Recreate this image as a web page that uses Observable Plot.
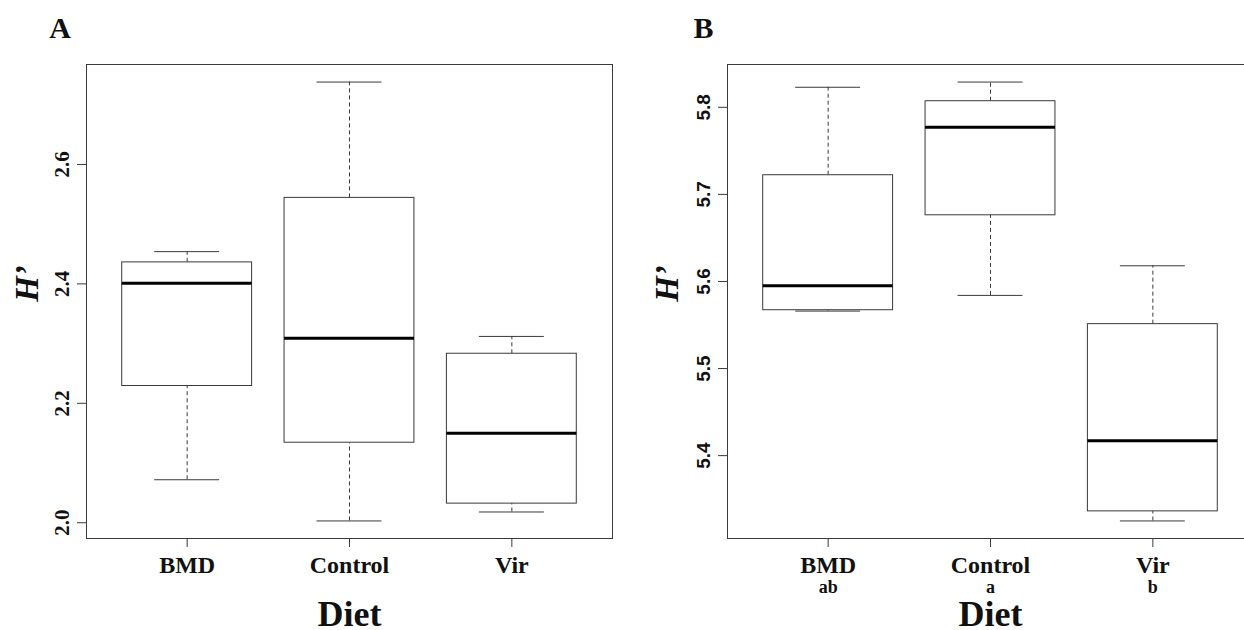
<!DOCTYPE html>
<html>
<head>
<meta charset="utf-8">
<script src="https://cdn.jsdelivr.net/npm/d3@7"></script>
<script src="https://cdn.jsdelivr.net/npm/@observablehq/plot@0.6"></script>
<style>
  html, body { margin: 0; padding: 0; background: #fff; overflow: hidden; }
  #wrap { position: relative; width: 1244px; height: 630px; overflow: hidden; background: #fff; }
  #wrap svg { position: absolute; top: 0; }
</style>
</head>
<body>
<div id="wrap"></div>
<script>
// Diet groups and the significance letters shown under panel B
const categories = ["BMD", "Control", "Vir"];
const groupLetters = ["ab", "a", "b"];

// Panel A: five-number summaries of H' per diet
const lowA  = [2.072, 2.003, 2.018];
const q1A   = [2.229, 2.134, 2.032];
const medA  = [2.401, 2.309, 2.150];
const q3A   = [2.436, 2.544, 2.283];
const highA = [2.454, 2.738, 2.312];
const yTicksA = [2.0, 2.2, 2.4, 2.6];

// Panel B: five-number summaries of H' per diet
const lowB  = [5.566, 5.584, 5.325];
const q1B   = [5.567, 5.676, 5.336];
const medB  = [5.595, 5.777, 5.417];
const q3B   = [5.722, 5.807, 5.551];
const highB = [5.823, 5.829, 5.618];
const yTicksB = [5.4, 5.5, 5.6, 5.7, 5.8];

const SERIF = "'Liberation Serif', 'Times New Roman', serif";
const SANS = "'Liberation Sans', Arial, sans-serif";
const LINE = "#3a3a3a";

function rowsFrom(lo, q1, med, q3, hi, letters) {
  return categories.map((c, k) => ({
    pos: k + 1, cat: c, lo: lo[k], q1: q1[k], med: med[k], q3: q3[k], hi: hi[k],
    letter: letters ? letters[k] : null
  }));
}

// R-style y range: data extent padded by 4% on each side
function paddedDomain(rows) {
  const mn = d3.min(rows, d => d.lo), mx = d3.max(rows, d => d.hi);
  const r = mx - mn;
  return [mn - 0.04 * r, mx + 0.04 * r];
}

function boxPanel({rows, yTicks, tickFont, tickFontSize, tickDx, panelLetter, letterDx, hDx,
                   width, marginLeft, marginRight, showLetters}) {
  const boxHalf = 0.4, stapleHalf = 0.2;
  const marks = [
    // whiskers
    Plot.ruleX(rows, {x: "pos", y1: "q3", y2: "hi", stroke: LINE, strokeDasharray: "4,3"}),
    Plot.ruleX(rows, {x: "pos", y1: "lo", y2: "q1", stroke: LINE, strokeDasharray: "4,3"}),
    // staples
    Plot.ruleY(rows, {y: "hi", x1: d => d.pos - stapleHalf, x2: d => d.pos + stapleHalf, stroke: LINE}),
    Plot.ruleY(rows, {y: "lo", x1: d => d.pos - stapleHalf, x2: d => d.pos + stapleHalf, stroke: LINE}),
    // boxes
    Plot.rect(rows, {x1: d => d.pos - boxHalf, x2: d => d.pos + boxHalf, y1: "q1", y2: "q3",
                     fill: "white", stroke: LINE, strokeWidth: 1}),
    // medians
    Plot.ruleY(rows, {y: "med", x1: d => d.pos - boxHalf, x2: d => d.pos + boxHalf,
                      stroke: "#000", strokeWidth: 3}),
    Plot.frame({stroke: LINE}),
    // axis ticks
    Plot.axisY({ticks: yTicks, tickSize: 9, tickFormat: () => "", stroke: LINE, label: null}),
    Plot.axisX({ticks: [1, 2, 3], tickSize: 9, tickFormat: () => "", stroke: LINE, label: null}),
    // y tick labels, rotated like R's default las=0
    Plot.text(yTicks, {y: d => d, text: d => d.toFixed(1), frameAnchor: "left", dx: tickDx,
                       rotate: -90, textAnchor: "middle", lineAnchor: "bottom",
                       fontFamily: tickFont, fontWeight: "bold", fontSize: tickFontSize, fill: "#111"}),
    // x tick labels
    Plot.text(rows, {x: "pos", text: "cat", frameAnchor: "bottom", dy: 34, lineAnchor: "bottom",
                     fontFamily: SERIF, fontWeight: "bold", fontSize: 24, fill: "#111"}),
    // axis titles
    Plot.text(["Diet"], {frameAnchor: "bottom", dy: 87, lineAnchor: "bottom",
                         fontFamily: SERIF, fontWeight: "bold", fontSize: 36, fill: "#111"}),
    Plot.text(["H\u2019"], {frameAnchor: "left", dx: hDx, dy: -18, rotate: -90,
                            textAnchor: "middle", lineAnchor: "bottom",
                            fontFamily: SERIF, fontWeight: "bold", fontStyle: "italic",
                            fontSize: 33, fill: "#111"}),
    // panel letter
    Plot.text([panelLetter], {frameAnchor: "top-left", dx: letterDx, dy: -27, textAnchor: "middle",
                              lineAnchor: "bottom", fontFamily: SERIF, fontWeight: "bold",
                              fontSize: 30, fill: "#111"})
  ];
  if (showLetters) {
    marks.push(Plot.text(rows, {x: "pos", text: "letter", frameAnchor: "bottom", dy: 54,
                                lineAnchor: "bottom", fontFamily: SERIF, fontWeight: "bold",
                                fontSize: 18, fill: "#111"}));
  }
  return Plot.plot({
    width, height: 630,
    marginLeft, marginRight, marginTop: 64, marginBottom: 92,
    style: {background: "white", overflow: "visible"},
    x: {type: "linear", domain: [0.38, 3.62], axis: null},
    y: {domain: paddedDomain(rows), axis: null},
    marks
  });
}

const wrap = document.getElementById("wrap");

const panelA = boxPanel({
  rows: rowsFrom(lowA, q1A, medA, q3A, highA, null),
  yTicks: yTicksA, tickFont: SERIF, tickFontSize: 21, tickDx: -18,
  panelLetter: "A", letterDx: -26.5, hDx: -49,
  width: 640, marginLeft: 86, marginRight: 28, showLetters: false
});
panelA.style.left = "0px";
wrap.appendChild(panelA);

const panelB = boxPanel({
  rows: rowsFrom(lowB, q1B, medB, q3B, highB, groupLetters),
  yTicks: yTicksB, tickFont: SANS, tickFontSize: 19, tickDx: -18,
  panelLetter: "B", letterDx: -24, hDx: -50,
  width: 633, marginLeft: 87, marginRight: 20, showLetters: true
});
panelB.style.left = "640px";
wrap.appendChild(panelB);
</script>
</body>
</html>
